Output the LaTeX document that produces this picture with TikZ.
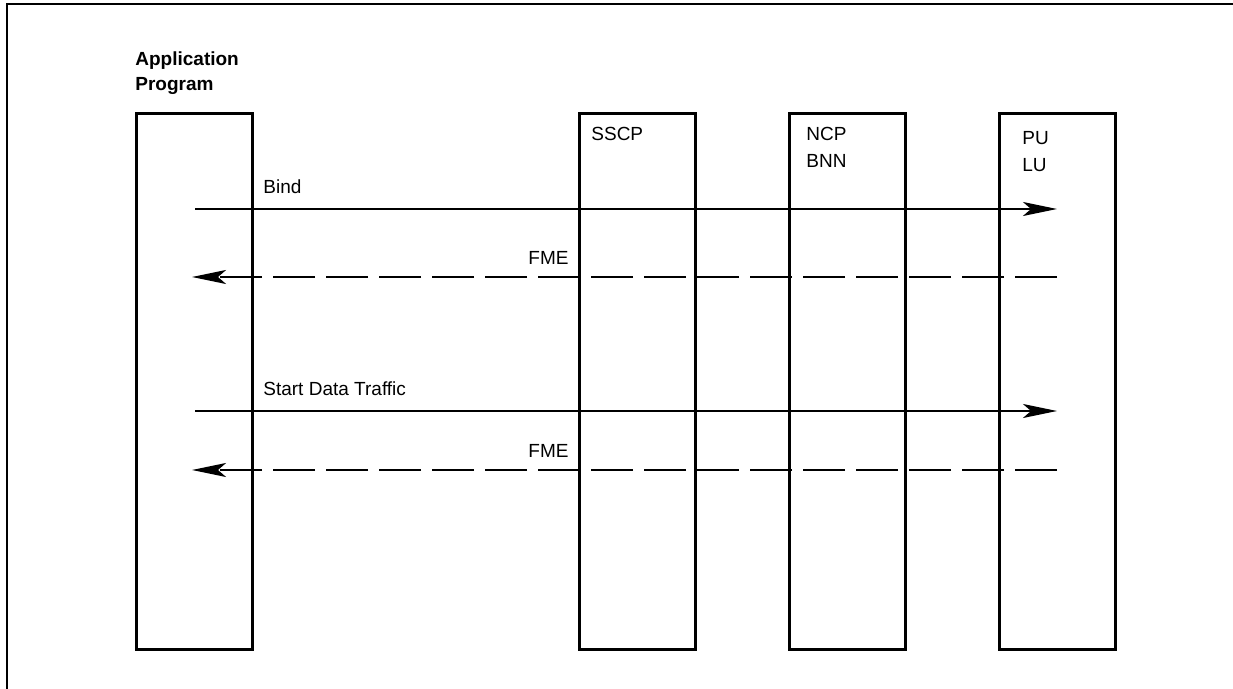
\documentclass[tikz,border=0pt]{standalone}
\usepackage{fontspec}
\setmainfont{Liberation Sans}
\usetikzlibrary{arrows.meta}

\tikzset{
  lane/.style={draw, line width=1.3pt, anchor=north west, inner sep=0pt,
               minimum width=58pt, minimum height=268pt},
  lanetext/.style={anchor=base west, inner sep=0pt, align=left,
                   font=\fontsize{9.5}{13.5}\selectfont},
  msgtext/.style={inner sep=0pt, font=\fontsize{9.5}{11}\selectfont},
  msg/.style={line width=1.1pt, -{Stealth[length=17pt, width=7pt, inset=4pt]}},
  reply/.style={msg, dash pattern=on 21pt off 5.5pt}
}

\begin{document}
\begin{tikzpicture}[x=0.5pt, y=-0.5pt]
\useasboundingbox (0,0) rectangle (1233,689);
% frame
\draw [line width=1.4pt] (1233,4) -- (7,4) -- (7,689);
% the four lanes
\node (app) [lane] at (135,112) {};
\node (sscp) [lane] at (578,112) {};
\node (ncp) [lane] at (788,112) {};
\node (pulu) [lane] at (998,112) {};
\node (apptext) [lanetext, font=\fontsize{9.5}{12.5}\selectfont\bfseries] at (135,91) {Application\\Program};
\node (sscptext) [lanetext] at (591,141) {SSCP};
\node (ncptext) [lanetext] at (806,168) {NCP\\BNN};
\node (pulutext) [lanetext] at (1022,172) {PU\\LU};
% end points of the flows
\coordinate (bindL) at (195,209);
\coordinate (bindR) at (1057,209);
\coordinate (fmeaR) at (1057,277);
\coordinate (fmeaL) at (192,277);
\coordinate (sdtL) at (195,411);
\coordinate (sdtR) at (1057,411);
\coordinate (fmebR) at (1057,470);
\coordinate (fmebL) at (192,470);
% flows
\draw [msg] (bindL) -- (bindR);
\draw [reply] (fmeaR) -- (fmeaL);
\draw [msg] (sdtL) -- (sdtR);
\draw [reply] (fmebR) -- (fmebL);
\node (bind) [msgtext, anchor=base west] at (263,194) {Bind};
\node (fmea) [msgtext, anchor=base east] at (569,265) {FME};
\node (sdt) [msgtext, anchor=base west] at (263,396) {Start Data Traffic};
\node (fmeb) [msgtext, anchor=base east] at (569,458) {FME};
\end{tikzpicture}
\end{document}
